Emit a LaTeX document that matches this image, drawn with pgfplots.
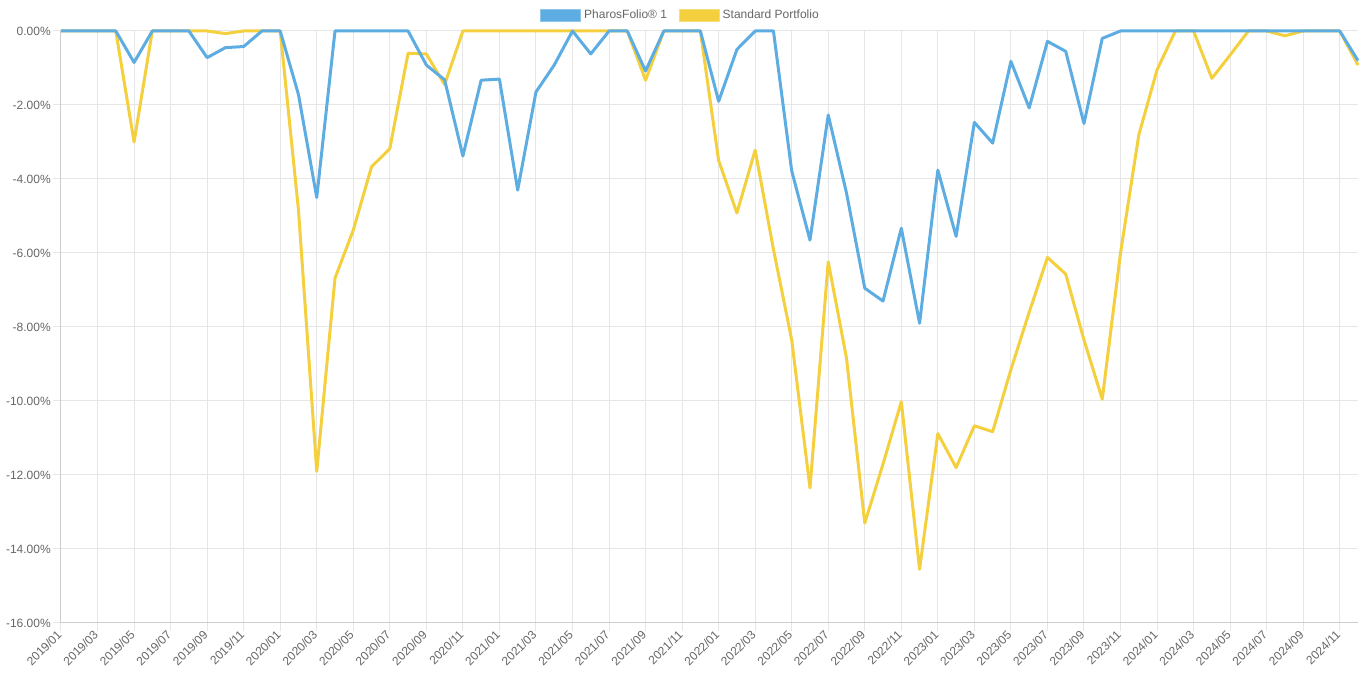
\documentclass[border=0pt]{standalone}
\usepackage{pgfplots}
\pgfplotsset{compat=1.18}
\usepackage{pgfplotstable}
\usepackage{fontspec}
\setmainfont{Liberation Sans}
\definecolor{pblue}{HTML}{5DADE2}
\definecolor{pyellow}{HTML}{F4D03F}
\definecolor{txt}{HTML}{666666}
\definecolor{gridc}{HTML}{E6E6E6}
\definecolor{axc}{HTML}{CCCCCC}
\pgfplotstableread{
i blue yellow
0 0 0
1 0 0
2 0 0
3 0 0
4 -0.85 -3.0
5 0 0
6 0 0
7 0 0
8 -0.72 0
9 -0.45 -0.07
10 -0.42 0
11 0 0
12 0 0
13 -1.72 -4.84
14 -4.5 -11.9
15 0 -6.68
16 0 -5.38
17 0 -3.67
18 0 -3.18
19 0 -0.6
20 -0.92 -0.62
21 -1.32 -1.45
22 -3.38 0
23 -1.33 0
24 -1.30 0
25 -4.3 0
26 -1.65 0
27 -0.92 0
28 0 0
29 -0.62 0
30 0 0
31 0 0
32 -1.08 -1.33
33 0 0
34 0 0
35 0 0
36 -1.9 -3.5
37 -0.5 -4.92
38 0 -3.22
39 0 -5.9
40 -3.78 -8.35
41 -5.65 -12.35
42 -2.27 -6.24
43 -4.38 -8.84
44 -6.95 -13.3
45 -7.3 -11.7
46 -5.33 -10.02
47 -7.9 -14.55
48 -3.76 -10.88
49 -5.55 -11.8
50 -2.47 -10.67
51 -3.03 -10.83
52 -0.82 -9.15
53 -2.08 -7.6
54 -0.28 -6.12
55 -0.55 -6.57
56 -2.5 -8.35
57 -0.2 -9.95
58 0 -6.0
59 0 -2.81
60 0 -1.05
61 0 0
62 0 0
63 0 -1.28
64 0 -0.65
65 0 0
66 0 0
67 0 -0.13
68 0 0
69 0 0
70 0 0
71 -0.8 -0.92
}\datatable
\begin{document}
\begin{tikzpicture}
\useasboundingbox (-45.75pt,-43.5pt) rectangle (976.5pt,467.25pt);
\begin{axis}[
  scale only axis,
  width=972.75pt, height=444pt,
  xmin=0, xmax=71, ymin=-16, ymax=0,
  clip=false,
  axis x line=bottom, axis y line=left,
  axis line style={-, draw=axc, line width=0.75pt},
  xtick={0,2,...,70},
  xticklabels={2019/01,2019/03,2019/05,2019/07,2019/09,2019/11,
    2020/01,2020/03,2020/05,2020/07,2020/09,2020/11,
    2021/01,2021/03,2021/05,2021/07,2021/09,2021/11,
    2022/01,2022/03,2022/05,2022/07,2022/09,2022/11,
    2023/01,2023/03,2023/05,2023/07,2023/09,2023/11,
    2024/01,2024/03,2024/05,2024/07,2024/09,2024/11},
  ytick={-16,-14,...,0},
  yticklabel={\pgfmathprintnumber[fixed,fixed zerofill,precision=2]{\tick}\%},
  /pgf/number format/assume math mode=true,
  tick align=outside,
  major tick length=6pt,
  tick style={draw=gridc, line width=0.75pt},
  grid=major,
  major grid style={draw=gridc, line width=0.75pt},
  ticklabel style={font=\fontsize{9pt}{10pt}\selectfont, text=txt},
  xticklabel style={rotate=45, anchor=east, inner sep=1.5pt},
  yticklabel style={inner sep=1.5pt},
  legend columns=2,
  legend style={at={(0.478,1.027)}, anchor=center, draw=none, fill=none,
    font=\fontsize{9pt}{10pt}\selectfont, text=txt,
    /tikz/every even column/.append style={column sep=7pt}},
  legend cell align=left,
]
\addlegendimage{legend image code/.code={\filldraw[fill=pblue, draw=pblue!70!white, line width=0.75pt] (0pt,-4.5pt) rectangle (30pt,4.5pt);}}
\addlegendentry{PharosFolio® 1}
\addlegendimage{legend image code/.code={\filldraw[fill=pyellow, draw=pyellow!70!white, line width=0.75pt] (0pt,-4.5pt) rectangle (30pt,4.5pt);}}
\addlegendentry{Standard Portfolio}
\addplot[forget plot, pyellow, line width=2.25pt, line join=round, mark=none] table[x=i, y=yellow] {\datatable};
\addplot[forget plot, pblue, line width=2.25pt, line join=round, mark=none] table[x=i, y=blue] {\datatable};
\end{axis}
\end{tikzpicture}
\end{document}
